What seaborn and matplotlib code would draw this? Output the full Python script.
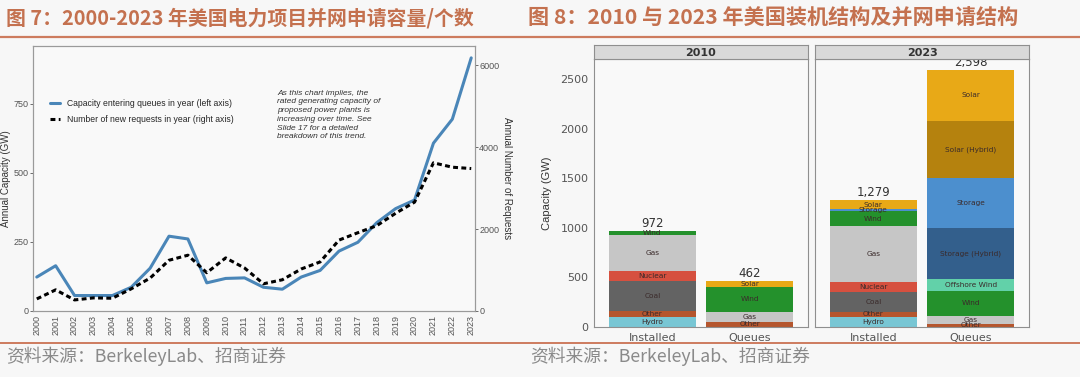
'''
Recreates the two-panel figure on US interconnection queues (BerkeleyLab data)
'''
import matplotlib
matplotlib.use('Agg')
import matplotlib.pyplot as plt
import seaborn           as sns
import pandas            as pnd

# ----------------------
# data
years    = [2000, 2001, 2002, 2003, 2004, 2005, 2006, 2007, 2008, 2009, 2010, 2011,
            2012, 2013, 2014, 2015, 2016, 2017, 2018, 2019, 2020, 2021, 2022, 2023]
cap_gw   = [123, 164, 56, 56, 56, 86, 155, 271, 261, 102, 118, 120,
            86, 79, 123, 147, 217, 249, 320, 371, 402, 608, 695, 917]
requests = [295, 516, 270, 320, 311, 541, 803, 1238, 1361, 934, 1295, 1049,
            664, 762, 1025, 1197, 1730, 1910, 2082, 2385, 2656, 3615, 3508, 3475]

fuel_2010_installed = ['Hydro', 'Other', 'Coal', 'Nuclear', 'Gas', 'Wind']
gw_2010_installed   = [100, 62, 305, 101, 360, 44]
fuel_2010_queues    = ['Other', 'Gas', 'Wind', 'Solar']
gw_2010_queues      = [54, 100, 252, 56]
fuel_2023_installed = ['Hydro', 'Other', 'Coal', 'Nuclear', 'Gas', 'Wind', 'Storage', 'Solar']
gw_2023_installed   = [100, 55, 195, 100, 570, 148, 20, 91]
fuel_2023_queues    = ['Other', 'Gas', 'Wind', 'Offshore Wind', 'Storage (Hybrid)',
                       'Storage', 'Solar (Hybrid)', 'Solar']
gw_2023_queues      = [34, 80, 248, 118, 523, 500, 574, 521]

bar_labels = ['Installed', 'Queues']

title_7 = '图 7：2000-2023 年美国电力项目并网申请容量/个数'
title_8 = '图 8：2010 与 2023 年美国装机结构及并网申请结构'
source  = '资料来源：BerkeleyLab、招商证券'
note    = ('As this chart implies, the\nrated generating capacity of\n'
           'proposed power plants is\nincreasing over time. See\n'
           'Slide 17 for a detailed\nbreakdown of this trend.')

# ----------------------
class Style:
    '''
    Shared colours and fonts
    '''
    bg      = '#F7F7F7'
    panel   = '#F9F9F9'
    accent  = '#C4714F'
    grey    = '#555555'
    narrow  = ['Liberation Sans Narrow', 'Liberation Sans', 'DejaVu Sans']
    cjk     = ['Noto Sans CJK SC', 'DejaVu Sans']
    fuel_colors = {
        'Hydro'            : '#78C6D4',
        'Other'            : '#B5562E',
        'Coal'             : '#636363',
        'Nuclear'          : '#D6503F',
        'Gas'              : '#C6C6C6',
        'Wind'             : '#24912C',
        'Storage'          : '#4C8FCE',
        'Solar'            : '#E8A917',
        'Solar (Hybrid)'   : '#B5820E',
        'Storage (Hybrid)' : '#335F8C',
        'Offshore Wind'    : '#62D1A9',
    }
# ----------------------
def _plot_queue_lines(fig) -> None:
    ax = fig.add_axes([33 / 1080, 66 / 377, 442 / 1080, 265 / 377])
    ax.set_facecolor(Style.panel)
    df = pnd.DataFrame({'year' : years, 'cap' : cap_gw, 'req' : requests})

    sns.lineplot(data=df, x='year', y='cap', ax=ax, color='#4A86B8', lw=2.2, legend=False)
    ax2 = ax.twinx()
    sns.lineplot(data=df, x='year', y='req', ax=ax2, color='black', lw=2.2,
                 linestyle=(0, (1.6, 1.1)), legend=False)

    ax.set_xlim(1999.8, 2023.2)
    ax.set_ylim(0, 960)
    ax2.set_ylim(0, 6465)
    ax.set_yticks([0, 250, 500, 750])
    ax2.set_yticks([0, 2000, 4000, 6000])
    ax.set_xticks(years)
    ax.set_xticklabels([str(y) for y in years], rotation=90)

    for axis in (ax, ax2):
        axis.tick_params(labelsize=6.5, colors=Style.grey, length=2, width=0.6, pad=1)
        for label in axis.get_xticklabels() + axis.get_yticklabels():
            label.set_family(Style.narrow)
        for spine in axis.spines.values():
            spine.set_color('#9A9A9A')
            spine.set_linewidth(0.8)

    ax.set_xlabel('')
    ax.set_ylabel('Annual Capacity (GW)', fontsize=7, color='#333333', labelpad=2,
                  family=Style.narrow)
    ax2.set_ylabel('Annual Number of Requests', fontsize=7, color='#333333',
                   rotation=270, labelpad=9, family=Style.narrow)

    handles = [ax.get_lines()[0], ax2.get_lines()[0]]
    labels  = ['Capacity entering queues in year (left axis)',
               'Number of new requests in year (right axis)']
    ax.legend(handles, labels, loc='upper left', bbox_to_anchor=(0.02, 0.83),
              frameon=False, handlelength=1.2, handletextpad=0.8, labelspacing=0.8,
              prop={'family' : Style.narrow, 'size' : 6.2})

    ax.text(0.553, 0.835, note, transform=ax.transAxes, ha='left', va='top',
            fontsize=6, style='italic', color='#333333', linespacing=1.35,
            family=Style.narrow)
# ----------------------
def _plot_panel(fig, left : float, year : str, stacks : list) -> None:
    ax = fig.add_axes([left / 1080, 50 / 377, 214 / 1080, 268 / 377])
    ax.set_facecolor(Style.panel)
    for xpos, (fuels, values) in enumerate(stacks):
        bottom = 0
        for fuel, val in zip(fuels, values):
            ax.bar(xpos, val, bottom=bottom, width=0.9, color=Style.fuel_colors[fuel],
                   linewidth=0)
            ax.text(xpos, bottom + val / 2, fuel, ha='center', va='center',
                    fontsize=5.3, color='#3A2A2A')
            bottom += val
        ax.text(xpos, bottom + 8, f'{bottom:,}', ha='center', va='bottom',
                fontsize=8.5, color='#333333')

    ax.set_xlim(-0.6, 1.6)
    ax.set_ylim(0, 2705)
    ax.set_xticks([0, 1])
    ax.set_xticklabels(bar_labels)
    ax.set_yticks([0, 500, 1000, 1500, 2000, 2500])
    ax.tick_params(labelsize=8, colors=Style.grey, length=2.5, width=0.6, pad=1.5)
    for spine in ax.spines.values():
        spine.set_color('#8F8F8F')
        spine.set_linewidth(0.8)

    strip = fig.add_axes([left / 1080, 318 / 377, 214 / 1080, 14 / 377])
    strip.set_facecolor('#D9D9D9')
    strip.set_xticks([])
    strip.set_yticks([])
    for spine in strip.spines.values():
        spine.set_color('#8F8F8F')
        spine.set_linewidth(0.8)
    strip.text(0.5, 0.45, year, transform=strip.transAxes, ha='center', va='center',
               fontsize=8, fontweight='semibold', color='#333333')
    return ax
# ----------------------
def _plot_structure(fig) -> None:
    ax1 = _plot_panel(fig, 594, '2010', [(fuel_2010_installed, gw_2010_installed),
                                         (fuel_2010_queues, gw_2010_queues)])
    ax2 = _plot_panel(fig, 815, '2023', [(fuel_2023_installed, gw_2023_installed),
                                         (fuel_2023_queues, gw_2023_queues)])
    ax2.set_yticklabels([])
    ax2.tick_params(axis='y', length=0)
    ax1.set_ylabel('Capacity (GW)', fontsize=8, color='#333333', labelpad=6,
                   family=Style.narrow)
# ----------------------
def _decorate(fig) -> None:
    kw = dict(fontweight='bold', color=Style.accent, va='center', family=Style.cjk)
    fig.text(6 / 1080, 1 - 18 / 377, title_7, fontsize=14.3, **kw)
    fig.text(528 / 1080, 1 - 18 / 377, title_8, fontsize=15.2, **kw)
    for ypix, lw in ((37, 1.6), (343, 1.4)):
        fig.add_artist(plt.Line2D([0, 1], [1 - ypix / 377] * 2, color='#CD7B5E',
                                  lw=lw, transform=fig.transFigure))
    kw = dict(fontsize=12.8, color='#8A8A8A', va='center', family=Style.cjk)
    fig.text(6 / 1080, 1 - 356 / 377, source, **kw)
    fig.text(530 / 1080, 1 - 356 / 377, source, **kw)
# ----------------------
def main():
    '''
    Entry point
    '''
    sns.set_theme(style='white')
    plt.rcParams['font.family'] = ['DejaVu Sans', 'Noto Sans CJK SC']
    fig = plt.figure(figsize=(10.8, 3.77), dpi=100, facecolor=Style.bg)
    _plot_queue_lines(fig)
    _plot_structure(fig)
    _decorate(fig)
    fig.savefig('out.png', dpi=100, facecolor=Style.bg)
    plt.close(fig)
# ----------------------
if __name__ == '__main__':
    main()
